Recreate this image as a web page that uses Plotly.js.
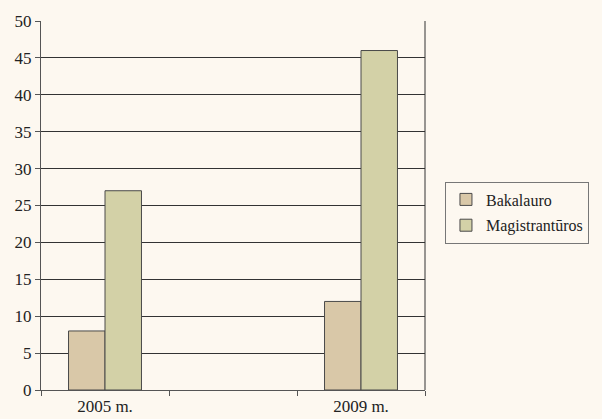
<!DOCTYPE html>
<html><head><meta charset="utf-8">
<script src="https://cdn.plot.ly/plotly-3.0.1.min.js"></script>
<style>body{margin:0;background:#fdf8f0}</style>
</head><body><div id="c" style="width:602px;height:419px"></div>
<script>
const categories = ["2005 m.", " ", "2009 m."];
const bakalauro = [8, null, 12];
const magistranturos = [27, null, 46];
const seriesNames = ["Bakalauro", "Magistrantūros"];
const font = "Liberation Serif, Times New Roman, serif";
const traces = [
  {type:"bar", name:seriesNames[0], legendgroup:"a", x:categories, y:bakalauro,
   marker:{color:"#d9c8a8", line:{color:"#4a4a4a", width:1}}},
  {type:"bar", name:seriesNames[1], legendgroup:"b", x:categories, y:magistranturos,
   marker:{color:"#d3d1a7", line:{color:"#4a4a4a", width:1}}}
];
const layout = {
  width:602, height:419,
  margin:{l:41, r:177, t:21, b:29},
  paper_bgcolor:"#fdf8f0", plot_bgcolor:"#fdf8f0",
  barmode:"group", bargap:0.43, bargroupgap:0,
  font:{family:font, size:16, color:"#222"},
  xaxis:{type:"category", categoryorder:"array", categoryarray:categories,
    tickson:"boundaries", ticks:"outside", ticklen:5, tickcolor:"#555",
    ticklabelstandoff:1,
    showline:true, linecolor:"#555", linewidth:1, mirror:false,
    showgrid:false, tickfont:{family:font, size:17, color:"#222"}},
  yaxis:{range:[0,50], dtick:5, ticks:"outside", ticklen:5, tickcolor:"#555",
    showline:true, linecolor:"#555", linewidth:1,
    showgrid:true, gridcolor:"#333", gridwidth:1, zeroline:false,
    tickfont:{family:font, size:17, color:"#222"}},
  legend:{x:1.052, y:0.565, xanchor:"left", yanchor:"top",
    bordercolor:"#777", borderwidth:1, bgcolor:"#fdf8f0",
    font:{family:font, size:16, color:"#222"}, tracegroupgap:2},
  shapes:[{type:"line", xref:"paper", yref:"paper", x0:1, x1:1, y0:0, y1:1,
    line:{color:"#333", width:1}}],
  showlegend:true
};
Plotly.newPlot("c", traces, layout, {displayModeBar:false});
</script></body></html>
